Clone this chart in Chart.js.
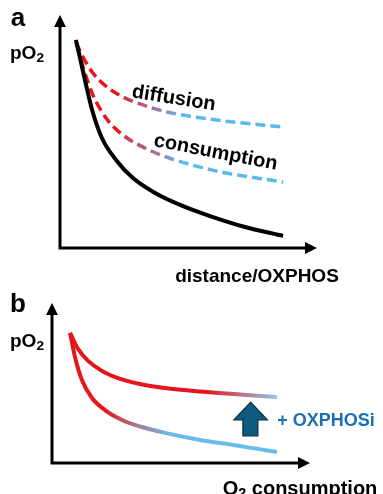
<!DOCTYPE html>
<html>
<head>
<meta charset="utf-8">
<script src="https://cdn.jsdelivr.net/npm/chart.js@4.4.1/dist/chart.umd.min.js"></script>
<style>
  html,body{margin:0;padding:0;background:#fff;width:383px;height:494px;overflow:hidden;}
  body{position:relative;font-family:"Liberation Sans",Arial,sans-serif;font-weight:bold;color:#000;}
  .wrap{position:absolute;left:0;}
  .lbl{position:absolute;white-space:nowrap;line-height:1;transform:translate(-50%,-50%);}
  sub{font-size:0.72em;vertical-align:-0.22em;line-height:0;}
</style>
</head>
<body>
<div class="wrap" style="top:0;width:383px;height:260px;"><canvas id="ca" width="383" height="260"></canvas></div>
<div class="wrap" style="top:280px;width:383px;height:214px;"><canvas id="cb" width="383" height="214"></canvas></div>

<div class="lbl" style="left:18px;top:17px;font-size:26px;">a</div>
<div class="lbl" style="left:27px;top:52px;font-size:19px;">pO<sub>2</sub></div>
<div class="lbl" style="left:174px;top:97px;font-size:20px;transform:translate(-50%,-50%) rotate(9deg);">diffusion</div>
<div class="lbl" style="left:216px;top:151px;font-size:20px;transform:translate(-50%,-50%) rotate(11deg);">consumption</div>
<div class="lbl" style="left:257px;top:275px;font-size:19px;">distance/OXPHOS</div>

<div class="lbl" style="left:18px;top:303px;font-size:26px;">b</div>
<div class="lbl" style="left:27px;top:340px;font-size:19px;">pO<sub>2</sub></div>
<div class="lbl" style="left:326px;top:420px;font-size:18px;color:#1b6fb4;">+ OXPHOSi</div>
<div class="lbl" style="left:300px;top:488px;font-size:20px;">O<sub>2</sub> consumption</div>

<script>
// ---- Panel a data (x: distance / OXPHOS, y: pO2, arbitrary units 0-10) ----
const aBlackX = [0.62, 0.78, 0.97, 1.25, 1.63, 2.18, 2.84, 3.70, 4.67, 5.84, 7.20, 8.68];
const aBlackY = [8.93, 8.15, 7.21, 5.92, 4.72, 3.78, 3.00, 2.36, 1.85, 1.37, 0.90, 0.52];
const aDiffX  = [0.62, 0.89, 1.28, 1.83, 2.45, 3.23, 4.16, 6.11, 8.68];
const aDiffY  = [8.84, 8.20, 7.51, 6.91, 6.48, 6.14, 5.84, 5.49, 5.19];
const aConsX  = [0.66, 0.93, 1.28, 1.79, 2.45, 3.31, 4.36, 6.11, 8.68];
const aConsY  = [8.71, 7.64, 6.57, 5.58, 4.85, 4.29, 3.82, 3.30, 2.83];

// ---- Panel b data (x: O2 consumption, y: pO2) ----
const bUpperX = [0.70, 1.01, 1.40, 1.94, 2.56, 3.41, 4.38, 5.74, 7.29, 8.72];
const bUpperY = [8.13, 7.13, 6.38, 5.75, 5.31, 4.94, 4.69, 4.47, 4.28, 4.13];
const bLowerX = [0.70, 0.89, 1.16, 1.55, 2.05, 2.71, 3.49, 4.38, 5.74, 7.02, 8.72];
const bLowerY = [8.13, 6.63, 5.19, 4.06, 3.31, 2.69, 2.25, 1.88, 1.44, 1.13, 0.69];

const RED = '#e6151c';
const pts = (xs, ys) => xs.map((x, i) => ({x, y: ys[i]}));

function grad(stops) {
  return function (ctx) {
    const chart = ctx.chart;
    const xs = chart.scales.x;
    if (!chart.chartArea || !xs) return RED;
    const x0 = xs.getPixelForValue(stops[0][0]);
    const x1 = xs.getPixelForValue(stops[stops.length - 1][0]);
    const g = chart.ctx.createLinearGradient(x0, 0, x1, 0);
    stops.forEach(([v, c]) => g.addColorStop((xs.getPixelForValue(v) - x0) / (x1 - x0), c));
    return g;
  };
}

const axesPlugin = {
  id: 'axesArrows',
  beforeDatasetsDraw(chart) {
    const {ctx, chartArea: a} = chart;
    ctx.save();
    ctx.strokeStyle = '#000';
    ctx.fillStyle = '#000';
    ctx.lineWidth = 3;
    ctx.lineCap = 'butt';
    const hl = 12, hw = 6;
    ctx.beginPath();
    ctx.moveTo(a.left, a.bottom + 1.5);
    ctx.lineTo(a.left, a.top + hl - 1);
    ctx.moveTo(a.left - 1.5, a.bottom);
    ctx.lineTo(a.right - hl + 1, a.bottom);
    ctx.stroke();
    ctx.beginPath();
    ctx.moveTo(a.left, a.top);
    ctx.lineTo(a.left - hw, a.top + hl);
    ctx.lineTo(a.left + hw, a.top + hl);
    ctx.closePath();
    ctx.fill();
    ctx.beginPath();
    ctx.moveTo(a.right, a.bottom);
    ctx.lineTo(a.right - hl, a.bottom - hw);
    ctx.lineTo(a.right - hl, a.bottom + hw);
    ctx.closePath();
    ctx.fill();
    ctx.restore();
  }
};

const blockArrow = {
  id: 'blockArrow',
  afterDatasetsDraw(chart, args, opts) {
    if (!opts || !opts.show) return;
    const {ctx} = chart;
    const xs = chart.scales.x, ys = chart.scales.y;
    const px = v => xs.getPixelForValue(v), py = v => ys.getPixelForValue(v);
    const L = px(opts.headL), R = px(opts.headR), sL = px(opts.shaftL), sR = px(opts.shaftR);
    const tip = py(opts.tip), base = py(opts.base), bot = py(opts.bottom);
    const cx = (L + R) / 2;
    ctx.save();
    ctx.beginPath();
    ctx.moveTo(cx, tip);
    ctx.lineTo(R, base);
    ctx.lineTo(sR, base);
    ctx.lineTo(sR, bot);
    ctx.lineTo(sL, bot);
    ctx.lineTo(sL, base);
    ctx.lineTo(L, base);
    ctx.closePath();
    ctx.fillStyle = '#0f5b80';
    ctx.fill();
    ctx.lineWidth = 1.2;
    ctx.strokeStyle = '#0a2c42';
    ctx.stroke();
    ctx.restore();
  }
};

function baseOptions(padding, arrow) {
  return {
    responsive: false,
    animation: false,
    layout: {padding},
    scales: {
      x: {type: 'linear', min: 0, max: 10, display: false},
      y: {type: 'linear', min: 0, max: 10, display: false}
    },
    elements: {point: {radius: 0}, line: {cubicInterpolationMode: 'monotone', capBezierPoints: true}},
    plugins: {legend: {display: false}, tooltip: {enabled: false}, blockArrow: arrow || {show: false}}
  };
}

const dashStops = [[0.6, RED], [2.2, RED], [2.8, '#c44a66'], [3.5, '#a8698a'], [4.1, '#8b8cb4'], [4.6, '#5bb8ea'], [8.7, '#5bb8ea']];

new Chart(document.getElementById('ca'), {
  type: 'line',
  data: {
    datasets: [
      {data: pts(aBlackX, aBlackY), borderColor: '#000', borderWidth: 4, fill: false},
      {data: pts(aDiffX, aDiffY), borderWidth: 3.5, borderDash: [10, 5], fill: false, borderColor: grad(dashStops)},
      {data: pts(aConsX, aConsY), borderWidth: 3.5, borderDash: [10, 5], fill: false, borderColor: grad(dashStops)}
    ]
  },
  options: baseOptions({left: 60, right: 66, top: 15, bottom: 12}),
  plugins: [axesPlugin, blockArrow]
});

new Chart(document.getElementById('cb'), {
  type: 'line',
  data: {
    datasets: [
      {data: pts(bUpperX, bUpperY), borderWidth: 4, fill: false,
       borderColor: grad([[0.6, RED], [6.0, RED], [7.4, '#b6738c'], [8.72, '#92c6e6']])},
      {data: pts(bLowerX, bLowerY), borderWidth: 4, fill: false,
       borderColor: grad([[0.6, RED], [2.0, RED], [3.3, '#a87890'], [4.6, '#68bce9'], [8.72, '#68bce9']])}
    ]
  },
  options: baseOptions({left: 52, right: 73, top: 23, bottom: 31},
    {show: true, headL: 7.05, headR: 8.35, shaftL: 7.4, shaftR: 7.98, tip: 3.8, base: 2.7, bottom: 1.7}),
  plugins: [axesPlugin, blockArrow]
});
</script>
</body>
</html>
